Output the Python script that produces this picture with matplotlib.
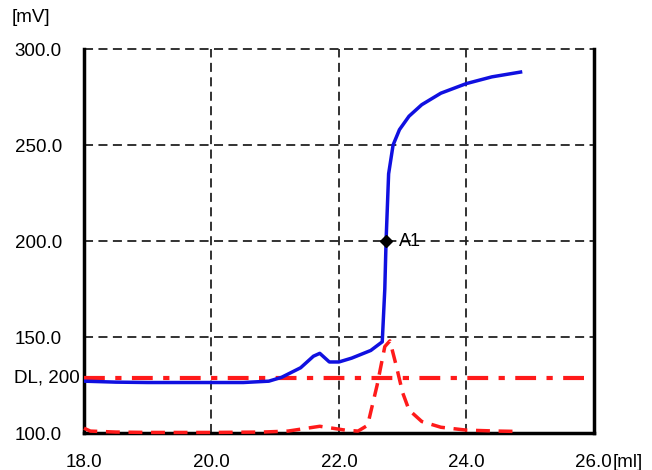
import matplotlib
matplotlib.use('Agg')
import matplotlib.pyplot as plt

# titration curve (blue), mV vs ml
vol_mv = [18.0, 18.5, 19.0, 19.5, 20.0, 20.5, 20.9, 21.1, 21.4, 21.6, 21.7,
          21.85, 22.0, 22.2, 22.5, 22.68, 22.72, 22.74, 22.78, 22.85, 22.95,
          23.1, 23.3, 23.6, 24.0, 24.4, 24.85]
mv = [127.0, 126.5, 126.3, 126.3, 126.3, 126.3, 127.0, 129.0, 134.0, 140.0,
      141.5, 137.0, 137.0, 139.0, 143.0, 147.5, 175.0, 200.0, 235.0, 250.0,
      258.0, 265.0, 271.0, 277.0, 282.0, 285.5, 288.0]

# first derivative (red dashed), plotted on the same scale
vol_d = [18.0, 18.1, 18.5, 19.0, 20.0, 20.8, 21.2, 21.5, 21.7, 21.9, 22.1,
         22.3, 22.45, 22.6, 22.72, 22.8, 22.9, 23.0, 23.1, 23.3, 23.6, 24.0,
         24.5, 24.85]
dmv = [102.5, 101.0, 100.5, 100.3, 100.3, 100.5, 101.0, 102.5, 103.5, 102.5,
       101.5, 101.0, 104.0, 125.0, 145.0, 148.0, 135.0, 121.0, 112.0, 106.0,
       103.0, 101.5, 101.0, 100.8]

dl_level = 128.5
dl_label = 'DL, 200'
a1_vol, a1_mv = 22.74, 200.0

x_ticks = [18.0, 20.0, 22.0, 24.0, 26.0]
y_ticks = [100.0, 150.0, 200.0, 250.0, 300.0]

plt.rcParams['font.family'] = ['Liberation Sans', 'DejaVu Sans']

fig = plt.figure(figsize=(6.52, 4.70), dpi=100)
ax = fig.add_axes([0.1288, 0.0787, 0.782, 0.817])

ax.set_xlim(18, 26)
ax.set_ylim(100, 300)

# grid
for x in x_ticks[1:-1]:
    ax.plot([x, x], [100, 300], color='#222222', lw=1.3, ls=(0, (5, 3)), zorder=1)
for y in y_ticks[1:]:
    ax.plot([18, 26], [y, y], color='#222222', lw=1.3, ls=(0, (5, 3)), zorder=1,
            clip_on=False)

ax.axhline(dl_level, color='#ff1a1a', lw=3, ls=(0, (5, 2.5, 1.5, 2.5)), zorder=3)
ax.plot(vol_d, dmv, color='#ff1a1a', lw=2.5, ls=(0, (4, 2.5)), zorder=3,
        clip_on=False)
ax.plot(vol_mv, mv, color='#1010e0', lw=2.5, zorder=4)
ax.plot([a1_vol], [a1_mv], 'D', color='black', ms=6, zorder=5)
ax.text(a1_vol + 0.2, a1_mv, 'A1', fontsize=13, va='center', ha='left')

for s in ['left', 'bottom', 'right']:
    ax.spines[s].set_linewidth(2.5)
    ax.spines[s].set_color('black')
ax.spines['top'].set_visible(False)

ax.set_xticks(x_ticks)
ax.set_xticklabels(['%.1f' % v for v in x_ticks], fontsize=13.5)
ax.set_yticks(y_ticks)
ax.set_yticklabels(['%.1f' % v for v in y_ticks], fontsize=13.5)
ax.tick_params(length=0, pad=15, axis='x')
ax.tick_params(length=0, pad=16, axis='y')

ax.annotate(dl_label, xy=(0, dl_level), xycoords=('axes fraction', 'data'),
            xytext=(-3, 0), textcoords='offset points', ha='right', va='center',
            fontsize=13.5)

fig.text(0.018, 0.963, '[mV]', fontsize=13.5, ha='left', va='center')
fig.text(0.94, 0.017, '[ml]', fontsize=13.5, ha='left', va='center')

plt.savefig('out.png', dpi=100)
plt.close()
